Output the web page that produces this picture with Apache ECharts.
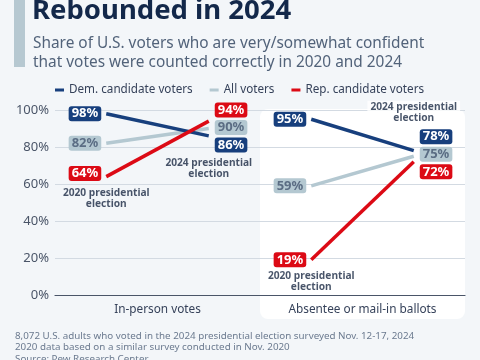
<!DOCTYPE html>
<html><head><meta charset="utf-8">
<script src="https://cdn.jsdelivr.net/npm/echarts@6/dist/echarts.min.js"></script>
<style>html,body{margin:0;padding:0;background:#f3f6f9;} #c{width:480px;height:360px;}</style>
</head><body><div id="c"></div>
<script>
const groups = ['In-person votes', 'Absentee or mail-in ballots'];
const years = ['2020', '2024'];
const seriesNames = ['Dem. candidate voters', 'All voters', 'Rep. candidate voters'];
// order: [in-person 2020, in-person 2024, mail 2020, mail 2024]
const demValues = [98, 86, 95, 78];
const allValues = [82, 90, 59, 75];
const repValues = [64, 94, 19, 72];
const yTicks = [0, 20, 40, 60, 80, 100];
const electionLabels = ['2020 presidential\nelection', '2024 presidential\nelection'];

const FONT = 'Noto Sans';
const colors = ['#173f7d', '#b4c8d1', '#dc0a15'];
const labelText = ['#ffffff', '#5b6d84', '#ffffff'];
// vertical nudges of the value boxes, to keep them apart (style only)
const nudges = [
  [0, 9, 0, -14],
  [0, -1, 0, -2],
  [-3, -11, 0, 10]
];
const valueSets = [demValues, allValues, repValues];

function slotX(g, y) { return g * 2 + y + 0.5; }

const series = [];
valueSets.forEach((vals, si) => {
  groups.forEach((gName, g) => {
    const data = years.map((yr, yi) => {
      const idx = g * 2 + yi;
      return {
        value: [slotX(g, yi), vals[idx]],
        label: {
          position: yi === 0 ? 'left' : 'right',
          distance: yi === 0 ? 5 : 6,
          offset: [0, nudges[si][idx]]
        }
      };
    });
    series.push({
      type: 'line',
      name: seriesNames[si],
      data: data,
      symbol: 'circle',
      symbolSize: 0,
      showSymbol: true,
      lineStyle: { color: colors[si], width: 3.5, cap: 'butt' },
      itemStyle: { color: colors[si] },
      z: 3 + (si === 0 ? 1 : si === 2 ? 2 : 0),
      animation: false,
      label: {
        show: true,
        formatter: p => p.value[1] + '%',
        backgroundColor: colors[si],
        color: labelText[si],
        fontFamily: FONT,
        fontWeight: 'bold',
        fontSize: 13,
        lineHeight: 13,
        padding: [1, 3, 1, 3],
        borderRadius: 3
      }
    });
  });
});

// election annotations anchored to data points
const annot = [
  { value: [slotX(0, 0), repValues[0]], text: electionLabels[0], off: [0, 22], bg: 'transparent' },
  { value: [slotX(0, 1), demValues[1]], text: electionLabels[1], off: [0, 33], bg: 'transparent' },
  { value: [slotX(1, 0), repValues[2]], text: electionLabels[0], off: [0, 22], bg: 'transparent' },
  { value: [slotX(1, 1), demValues[3]], text: electionLabels[1], off: [0, -38], bg: '#ffffff' }
];
series.push({
  type: 'scatter',
  name: 'annotations',
  symbolSize: 0,
  animation: false,
  silent: true,
  z: 5,
  data: annot.map(a => ({
    value: a.value,
    label: { offset: a.off, backgroundColor: a.bg, formatter: a.text }
  })),
  label: {
    show: true,
    position: 'inside',
    align: 'center',
    verticalAlign: 'middle',
    color: '#1a2944',
    fontFamily: FONT,
    fontWeight: 'bold',
    fontSize: 10.2,
    lineHeight: 11,
    padding: [1, 3]
  }
});

const chart = echarts.init(document.getElementById('c'), null, { renderer: 'canvas' });
const option = {
  backgroundColor: '#f3f6f9',
  animation: false,
  textStyle: { fontFamily: FONT },
  legend: {
    data: seriesNames,
    left: 50,
    top: 79,
    icon: 'rect',
    itemWidth: 9,
    itemHeight: 3,
    itemGap: 17,
    textStyle: { fontFamily: FONT, fontSize: 11.7, color: '#36425a' }
  },
  grid: { left: 55, right: 15, top: 110, bottom: 65, containLabel: false },
  xAxis: {
    type: 'value',
    min: 0, max: 4, interval: 1,
    axisLine: { show: true, lineStyle: { color: '#4a5568', width: 1.2 } },
    axisTick: { show: false },
    splitLine: { show: false },
    axisLabel: {
      fontFamily: FONT, fontSize: 11.8, color: '#36425a', margin: 9,
      formatter: v => (v === 1 ? groups[0] : v === 3 ? groups[1] : '')
    }
  },
  yAxis: {
    type: 'value',
    min: yTicks[0], max: yTicks[yTicks.length - 1], interval: yTicks[1] - yTicks[0],
    axisLine: { show: false },
    axisTick: { show: false },
    splitLine: { lineStyle: { color: '#d3dae2', width: 1 } },
    axisLabel: { fontFamily: FONT, fontSize: 13, color: '#4a5568', margin: 6, formatter: '{value}%' }
  },
  series: series
};
chart.setOption(option);

const tl = chart.convertToPixel({ gridIndex: 0 }, [2, yTicks[yTicks.length - 1]]);
const br = chart.convertToPixel({ gridIndex: 0 }, [4, yTicks[0]]);

chart.setOption({
  graphic: { elements: [
    { type: 'rect', id: 'panel', z: -10, silent: true,
      shape: { x: tl[0], y: tl[1] - 1, width: br[0] - tl[0], height: br[1] - tl[1] + 25, r: 8 },
      style: { fill: '#ffffff' } },
    { type: 'rect', id: 'bar', shape: { x: 14, y: -5, width: 11, height: 72 }, style: { fill: '#b6c8d1' } },
    { type: 'text', id: 'title', x: 32, y: 25, style: { text: 'Rebounded in 2024', fill: '#13284a',
        font: 'bold 27.5px "Noto Sans"', textVerticalAlign: 'bottom' } },
    { type: 'text', id: 'sub', x: 33, y: 33.5, style: { text: 'Share of U.S. voters who are very/somewhat confident\nthat votes were counted correctly in 2020 and 2024',
        fill: '#52637a', font: '15.4px "Noto Sans"', lineHeight: 19.5 } },
    { type: 'text', id: 'foot', x: 15, y: 330, style: { text: '8,072 U.S. adults who voted in the 2024 presidential election surveyed Nov. 12-17, 2024\n2020 data based on a similar survey conducted in Nov. 2020\nSource: Pew Research Center',
        fill: '#6b7a8f', font: '9.8px "Noto Sans"', lineHeight: 11.7 } }
  ] }
});
</script></body></html>
